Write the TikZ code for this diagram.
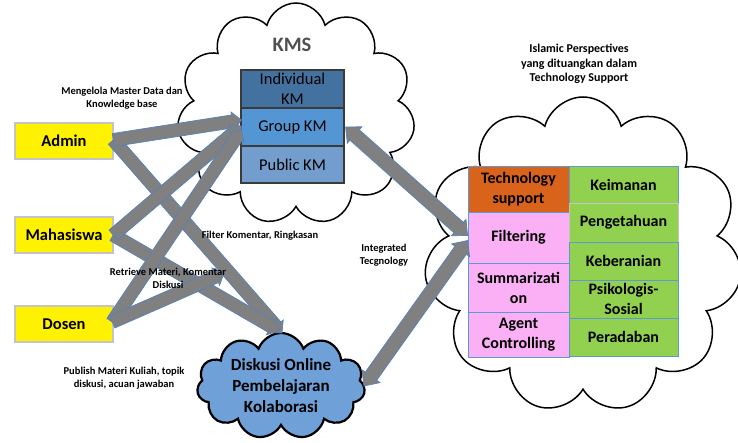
\documentclass[tikz,border=0pt]{standalone}
\usepackage{fontspec}
\setmainfont{Carlito}
\usetikzlibrary{shapes.symbols,calc}

\definecolor{arrowgray}{RGB}{128,128,128}
\definecolor{arrowedge}{RGB}{84,130,190}
\definecolor{kmdark}{RGB}{68,114,160}
\definecolor{kmmid}{RGB}{84,150,212}
\definecolor{kmlight}{RGB}{115,157,205}
\definecolor{kmedge}{RGB}{58,58,58}
\definecolor{techorange}{RGB}{217,99,26}
\definecolor{pinkcell}{RGB}{251,176,245}
\definecolor{greencell}{RGB}{146,208,80}
\definecolor{celledge}{RGB}{91,155,213}
\definecolor{actoredge}{RGB}{196,196,196}
\definecolor{cloudblue}{RGB}{112,160,216}
\definecolor{kmsgray}{RGB}{80,80,80}

% block arrow: from, to, shaft half-width, head half-width, head length
\newcommand{\blockarrow}[5]{%
  \coordinate (hb) at ($(#2)!#5!(#1)$);
  \draw[blockarr] ($(#1)!#3!90:(#2)$) -- ($(hb)!#3!90:(#2)$) -- ($(hb)!#4!90:(#2)$)
    -- (#2) -- ($(hb)!#4!-90:(#2)$) -- ($(hb)!#3!-90:(#2)$) -- ($(#1)!#3!-90:(#2)$) -- cycle;
}
% double-headed block arrow between two points
\newcommand{\doubleblockarrow}[5]{%
  \coordinate (ha) at ($(#1)!#5!(#2)$);
  \coordinate (hb) at ($(#2)!#5!(#1)$);
  \draw[blockarr] (#1) -- ($(ha)!#4!-90:(#2)$) -- ($(ha)!#3!-90:(#2)$) -- ($(hb)!#3!-90:(#2)$)
    -- ($(hb)!#4!-90:(#2)$) -- (#2) -- ($(hb)!#4!90:(#2)$) -- ($(hb)!#3!90:(#2)$)
    -- ($(ha)!#3!90:(#2)$) -- ($(ha)!#4!90:(#2)$) -- cycle;
}

\begin{document}
\begin{tikzpicture}[x=1pt,y=-1pt,
  blockarr/.style={fill=arrowgray,draw=arrowedge,line width=0.7pt,line join=miter},
  whitecloud/.style={cloud,cloud ignores aspect,draw=black,line width=1.5pt,fill=white,inner sep=0pt},
  actor/.style={rectangle,fill=yellow,draw=actoredge,line width=2.5pt,minimum width=98pt,minimum height=36pt,
    inner sep=0pt,font=\fontsize{16.5}{20}\selectfont\bfseries},
  kmbox/.style={rectangle,draw=kmedge,line width=1.3pt,minimum width=103pt,inner sep=0pt,align=center,
    font=\fontsize{16.5}{20}\selectfont},
  cell/.style={rectangle,draw=celledge,line width=0.8pt,inner sep=0pt,align=center,
    font=\fontsize{16}{20}\selectfont\bfseries},
  leftcell/.style={cell,minimum width=101pt},
  rightcell/.style={cell,minimum width=109pt,fill=greencell},
  note/.style={align=center,inner sep=0pt,font=\fontsize{10.5}{13}\selectfont\bfseries}
]
\useasboundingbox (0,0) rectangle (738,442);

% clouds
\node[whitecloud,cloud puffs=11,cloud puff arc=150,minimum width=238pt,minimum height=222pt] (kms) at (296,114) {};
\node[whitecloud,cloud puffs=11,cloud puff arc=150,minimum width=318pt,minimum height=316pt] (islam) at (583,255) {};
\node[cloud,cloud ignores aspect,cloud puffs=11,cloud puff arc=140,draw=black,line width=2.2pt,fill=cloudblue,
  minimum width=168pt,minimum height=106pt,inner sep=0pt] (diskusi) at (281,386) {};
\node[align=center,font=\fontsize{17}{21}\selectfont\bfseries] at (281,386) {Diskusi Online\\Pembelajaran\\Kolaborasi};

% KMS title and knowledge levels
\node[font=\fontsize{20.5}{24}\selectfont\bfseries,text=kmsgray] (kmstitle) at (292,45) {KMS};
\node[kmbox,fill=kmdark,minimum height=38pt] (individual) at (292.5,89) {Individual\\KM};
\node[kmbox,fill=kmmid,minimum height=38pt] (group) at (292.5,127) {Group KM};
\node[kmbox,fill=kmlight,minimum height=37pt] (public) at (292.5,164.5) {Public KM};

% technology support and islamic perspective table
\node[leftcell,fill=techorange,minimum height=46pt] (tech) at (518.5,189) {Technology\\support};
\node[leftcell,fill=pinkcell,minimum height=51pt] (filtering) at (518.5,237.5) {Filtering};
\node[leftcell,fill=pinkcell,minimum height=49pt] (summ) at (518.5,287.5) {Summarizati\\on};
\node[leftcell,fill=pinkcell,minimum height=45pt] (agent) at (518.5,334.5) {Agent\\Controlling};
\node[rightcell,minimum height=37pt] (keimanan) at (623.5,184.5) {Keimanan};
\node[rightcell,draw=actoredge,minimum height=39pt] (pengetahuan) at (623.5,222.5) {Pengetahuan};
\node[rightcell,minimum height=38pt] (keberanian) at (623.5,261) {Keberanian};
\node[rightcell,minimum height=38pt] (psikologis) at (623.5,299) {Psikologis-\\Sosial};
\node[rightcell,minimum height=38pt] (peradaban) at (623.5,337) {Peradaban};

% actors
\node[actor] (admin) at (64,141) {Admin};
\node[actor] (mahasiswa) at (64,235) {Mahasiswa};
\node[actor] (dosen) at (64,324) {Dosen};

% connector end points
\coordinate (adminOut) at ($(admin.east)+(-1,-1)$);
\coordinate (mhsOut) at ($(mahasiswa.east)+(-1,0)$);
\coordinate (dosenOut) at ($(dosen.east)+(-2,-2)$);
\coordinate (groupInA) at ($(group.west)+(1,-7)$);
\coordinate (groupInB) at ($(group.west)+(1,-1)$);
\coordinate (groupInC) at ($(group.west)+(1,3)$);
\coordinate (diskusiInA) at (282,333);
\coordinate (diskusiInB) at (279,331);
\coordinate (retrieveEnd) at (224,273);
\coordinate (groupSide) at ($(group.east)+(1,0)$);
\coordinate (filterInA) at ($(filtering.west)+(0,-2)$);
\coordinate (filterInB) at ($(filtering.west)+(0,3)$);
\coordinate (diskusiSide) at (364,386);

% arrows
\blockarrow{adminOut}{diskusiInA}{6.5pt}{9.5pt}{9pt}
\blockarrow{mhsOut}{diskusiInB}{6.5pt}{9.5pt}{9pt}
\blockarrow{adminOut}{groupInA}{6.5pt}{9.5pt}{9pt}
\blockarrow{mhsOut}{groupInB}{6.5pt}{9.5pt}{9pt}
\blockarrow{dosenOut}{groupInC}{6.5pt}{9.5pt}{9pt}
\blockarrow{dosenOut}{retrieveEnd}{6.5pt}{9.5pt}{9pt}
\doubleblockarrow{groupSide}{filterInA}{7pt}{11pt}{12pt}
\doubleblockarrow{filterInB}{diskusiSide}{7pt}{11pt}{12pt}

% connector labels
\node[note] (lblAdmin) at (122,98) {Mengelola Master Data dan\\Knowledge base};
\node[note] (lblFilter) at (260,236) {Filter Komentar, Ringkasan};
\node[note] (lblRetrieve) at (168,278) {Retrieve Materi, Komentar\\Diskusi};
\node[note] (lblPublish) at (124,378) {Publish Materi Kuliah, topik\\diskusi, acuan jawaban};
\node[note,font=\fontsize{10.5}{12.7}\selectfont\bfseries] (lblIntegrated) at (384,255.5) {Integrated\\Tecgnology};
\node[note,font=\fontsize{12}{14.7}\selectfont\bfseries] (lblIslam) at (579,64) {Islamic Perspectives\\yang dituangkan dalam\\Technology Support};
\end{tikzpicture}
\end{document}
